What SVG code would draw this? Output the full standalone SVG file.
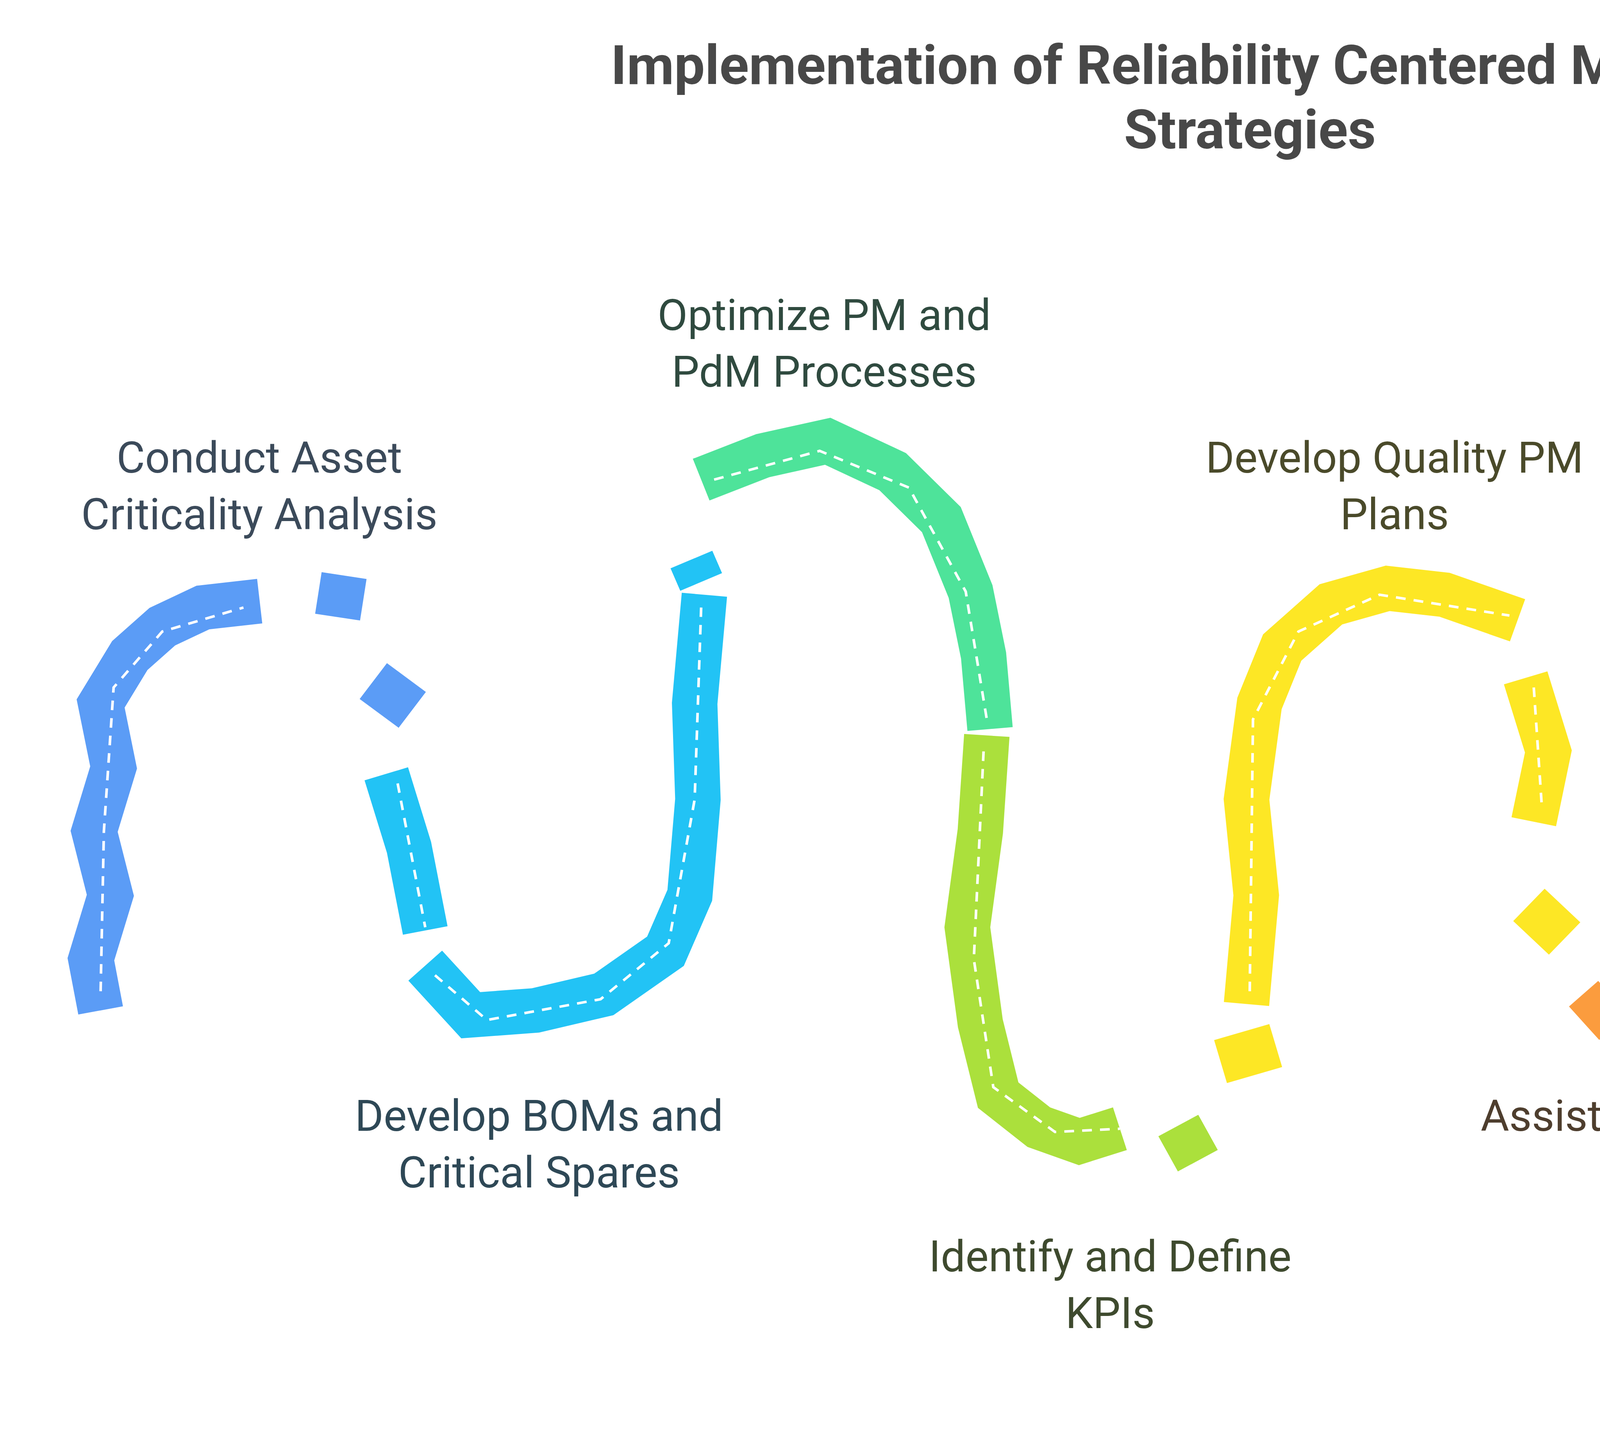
<svg xmlns="http://www.w3.org/2000/svg" width="6420" height="3684" viewBox="0 0 6420 3684">
<style>
.t{font-family:Roboto,"Liberation Sans",sans-serif;font-size:112px;text-anchor:middle}
.h{font-family:Roboto,"Liberation Sans",sans-serif;font-size:140px;font-weight:bold;fill:#484848;text-anchor:middle}
.s{fill:none;stroke-width:28;stroke-linecap:butt;stroke-linejoin:miter}
.d{fill:none;stroke:#fff;stroke-width:1.6;stroke-dasharray:6 5}
</style>
<rect width="6420" height="3684" fill="#fff"/>
<text class="h" x="3200" y="215">Implementation of Reliability Centered Maintenance</text>
<text class="h" x="3200" y="380">Strategies</text>
<g id="connectors" transform="scale(4.155 4.093)">
<g id="blue" stroke="#5b9cf6">
<path class="s" d="M62 632 L56 600 L68 560 L58 520 L70 480 L62 440 L80 410 L100 392 L125 380 L160 376"/>
<path class="s" d="M212 360 L208 386"/><path class="s" d="M230 426 L254 444"/>
<path class="d" d="M62 620 L64 520 L70 430 L100 395 L150 380"/>
</g>
<g id="cyan" stroke="#22c3f5">
<path class="s" d="M238 484 L252 530 L262 582"/>
<path class="s" d="M262 604 L290 635 L330 632 L372 622 L410 595 L425 560 L430 500 L428 440 L434 372"/>
<path class="s" d="M426 350 L432 364"/>
<path class="d" d="M245 490 L262 580 M268 610 L300 638 L370 625 L412 590 L428 500 L432 380"/>
</g>
<g id="green" stroke="#4ee39a">
<path class="s" d="M432 300 L470 285 L510 276 L550 295 L580 325 L598 370 L606 410 L610 456"/>
<path class="d" d="M440 300 L505 282 L560 305 L595 370 L608 450"/>
</g>
<g id="lime" stroke="#abe03c">
<path class="s" d="M608 460 L604 520 L596 580 L604 640 L615 685 L640 705 L665 714 L690 706"/>
<path class="s" d="M726 704 L738 726"/>
<path class="d" d="M606 470 L600 600 L612 680 L650 708 L690 706"/>
</g>
<g id="yellow" stroke="#fde725">
<path class="s" d="M752 664 L786 654"/>
<path class="s" d="M768 628 L774 560 L768 500 L776 440 L790 405 L820 378 L855 368 L890 372 L935 388"/>
<path class="s" d="M940 424 L954 470 L945 514"/>
<path class="s" d="M942 566 L964 587"/>
<path class="d" d="M770 620 L772 450 L800 395 L850 372 L930 385 M945 430 L950 505"/>
</g>
<g id="orange" stroke="#fb9c3e">
<path class="s" d="M976 640 L994 624"/>
<path class="s" d="M1040 630 L1080 622 L1110 605 L1122 570 L1126 500 L1124 440 L1132 376"/>
<path class="d" d="M1045 628 L1110 605 L1125 500 L1130 380"/>
</g>
<g id="red" stroke="#f96664">
<path class="s" d="M1125 342 L1150 325 L1162 295 L1180 282 L1205 270"/>
<path class="s" d="M1240 276 L1262 300 L1292 315 L1300 380 L1294 460 L1302 540 L1298 622"/>
<path class="d" d="M1180 285 L1200 275 M1250 290 L1295 320 L1298 450 L1300 610"/>
</g>
<g id="pink" stroke="#f76bc2">
<path class="s" d="M1306 645 L1318 682 L1332 682"/>
<path class="s" d="M1340 718 L1378 728 L1420 712 L1460 690 L1482 645 L1478 580 L1486 500 L1478 430 L1486 366"/>
<path class="d" d="M1345 720 L1420 710 L1478 650 L1482 500 L1486 380"/>
</g>
</g>
<g id="labels">
<text class="t" x="664" y="1210" fill="#3b4a5a">Conduct Asset</text>
<text class="t" x="664" y="1355" fill="#3b4a5a">Criticality Analysis</text>
<text class="t" x="2110" y="845" fill="#2f4a3f">Optimize PM and</text>
<text class="t" x="2110" y="990" fill="#2f4a3f">PdM Processes</text>
<text class="t" x="3570" y="1210" fill="#4a4a2a">Develop Quality PM</text>
<text class="t" x="3570" y="1355" fill="#4a4a2a">Plans</text>
<text class="t" x="5030" y="845" fill="#5a3a3a">Install sFMEA</text>
<text class="t" x="5030" y="990" fill="#5a3a3a">Processes</text>
<text class="t" x="1380" y="2895" fill="#2e4856">Develop BOMs and</text>
<text class="t" x="1380" y="3040" fill="#2e4856">Critical Spares</text>
<text class="t" x="2842" y="3255" fill="#3e4a2e">Identify and Define</text>
<text class="t" x="2842" y="3400" fill="#3e4a2e">KPIs</text>
<text class="t" x="4305" y="2895" fill="#4e3e2e">Assist in Root Cause</text>
<text class="t" x="4305" y="3040" fill="#4e3e2e">Analysis</text>
<text class="t" x="5767" y="3255" fill="#543a4a">Optimize Preventive</text>
<text class="t" x="5767" y="3400" fill="#543a4a">Maintenance</text>
</g>
</svg>
